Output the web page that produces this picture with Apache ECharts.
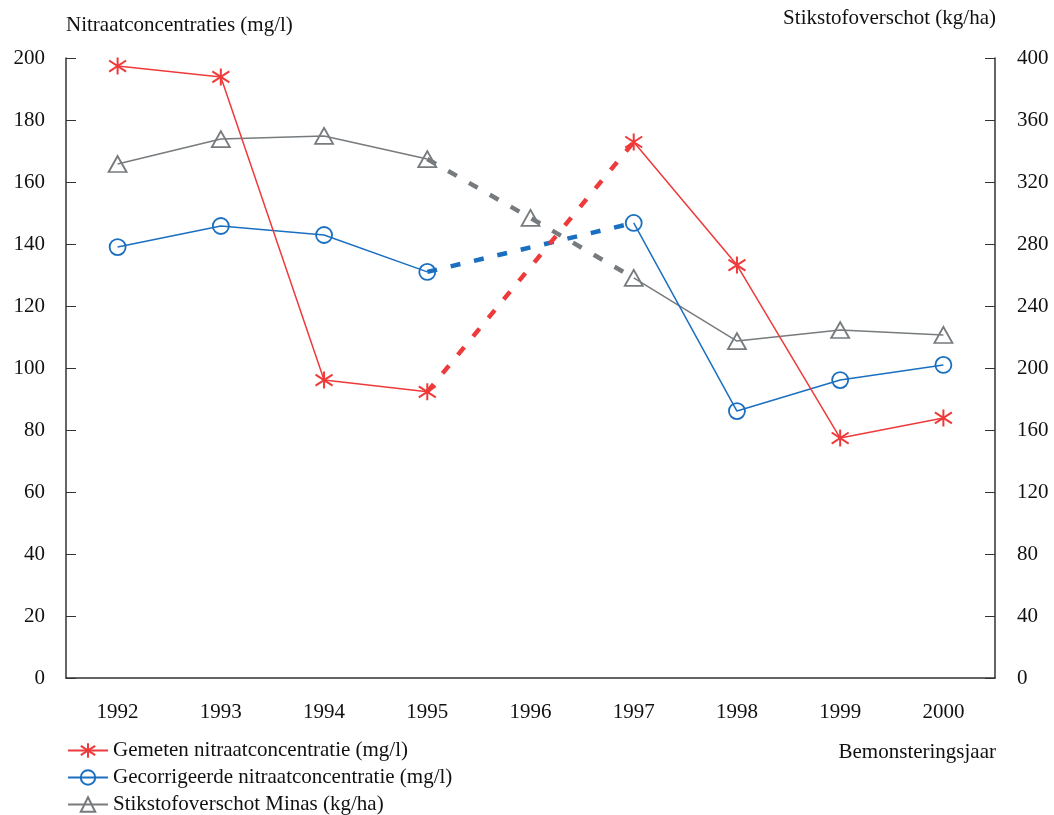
<!DOCTYPE html>
<html><head><meta charset="utf-8">
<script src="https://cdn.jsdelivr.net/npm/echarts@6/dist/echarts.min.js"></script>
<style>html,body{margin:0;padding:0;background:#fff}#c{width:1054px;height:815px}</style>
</head><body><div id="c"></div>
<script>
var years = ['1992','1993','1994','1995','1996','1997','1998','1999','2000'];
var gemeten = [197.4, 193.9, 96.1, 92.3, null, 172.9, 133.2, 77.4, 83.9];
var gecorrigeerd = [139.0, 145.8, 142.9, 131.0, null, 146.8, 86.1, 96.1, 101.0];
var stikstof = [331.6, 347.7, 349.7, 334.8, 296.8, 258.1, 217.4, 224.5, 221.3];
var leftTicks = [0, 200, 20];
var rightTicks = [0, 400, 40];

var RED = '#ee3a3a', BLUE = '#1a6fc0', GRAY = '#777b7e';
var FONT = 'Liberation Serif';
var FS = 21;
var TXT = '#111';
var star = 'path://M0,-1L0,1M-0.95,-0.65L0.95,0.65M-0.95,0.65L0.95,-0.65';

function solid(arr, withGap){ return arr.map(function(v,i){ return (withGap && i===4) ? null : v; }); }
function bridge(arr){ return arr.map(function(v,i){ return (i>=3 && i<=5) ? v : null; }); }

var chart = echarts.init(document.getElementById('c'));
chart.setOption({
  animation:false,
  textStyle:{fontFamily:FONT},
  grid:{left:66,right:59,top:58,bottom:137},
  legend:{
    orient:'vertical', left:67, top:740, height:100, width:600, padding:0, itemGap:6, itemWidth:40, itemHeight:18,
    textStyle:{fontFamily:FONT,fontSize:FS,color:TXT},
    data:['Gemeten nitraatconcentratie (mg/l)','Gecorrigeerde nitraatconcentratie (mg/l)','Stikstofoverschot Minas (kg/ha)']
  },
  graphic:[
    {type:'text',left:66,top:15,style:{text:'Nitraatconcentraties (mg/l)',font:FS+'px "Liberation Serif"',fill:TXT}},
    {type:'text',right:58,top:8,style:{text:'Stikstofoverschot (kg/ha)',font:FS+'px "Liberation Serif"',fill:TXT}},
    {type:'text',right:58,top:742,style:{text:'Bemonsteringsjaar',font:FS+'px "Liberation Serif"',fill:TXT}}
  ],
  xAxis:{
    type:'category', data:years, boundaryGap:true,
    axisLine:{lineStyle:{color:'#333',width:1.5}},
    axisTick:{inside:true,length:10,lineStyle:{color:'#333'}},
    axisLabel:{fontFamily:FONT,fontSize:FS,color:TXT,margin:24}
  },
  yAxis:[
    {type:'value',min:leftTicks[0],max:leftTicks[1],interval:leftTicks[2],
     splitLine:{show:false},
     axisLine:{show:true,lineStyle:{color:'#333',width:1.5}},
     axisTick:{show:true,inside:true,length:10,lineStyle:{color:'#333'}},
     axisLabel:{fontFamily:FONT,fontSize:FS,color:TXT,margin:21}},
    {type:'value',min:rightTicks[0],max:rightTicks[1],interval:rightTicks[2],position:'right',
     splitLine:{show:false},
     axisLine:{show:true,lineStyle:{color:'#333',width:1.5}},
     axisTick:{show:true,inside:true,length:10,lineStyle:{color:'#333'}},
     axisLabel:{fontFamily:FONT,fontSize:FS,color:TXT,margin:22}}
  ],
  series:[
    {name:'Stikstofoverschot Minas dashed',type:'line',yAxisIndex:1,data:bridge(stikstof),connectNulls:true,
     showSymbol:false,lineStyle:{color:GRAY,width:4.5,type:[10,14]},z:1},
    {name:'Gecorrigeerde dashed',type:'line',data:bridge(gecorrigeerd),connectNulls:true,
     showSymbol:false,lineStyle:{color:BLUE,width:4.5,type:[10,14]},z:1},
    {name:'Gemeten dashed',type:'line',data:bridge(gemeten),connectNulls:true,
     showSymbol:false,lineStyle:{color:RED,width:4.5,type:[10,14]},z:1},
    {name:'Stikstofoverschot Minas (kg/ha)',type:'line',yAxisIndex:1,data:solid(stikstof,true),connectNulls:false,
     symbol:'triangle',symbolSize:[18,16],
     lineStyle:{color:GRAY,width:1.5},itemStyle:{color:'rgba(0,0,0,0)',borderColor:GRAY,borderWidth:1.8},z:3},
    {name:'Stikstof 1996',type:'line',yAxisIndex:1,data:stikstof.map(function(v,i){return i===4?v:null;}),
     symbol:'triangle',symbolSize:[18,16],lineStyle:{width:0},
     itemStyle:{color:'rgba(0,0,0,0)',borderColor:GRAY,borderWidth:1.8},z:3},
    {name:'Gecorrigeerde nitraatconcentratie (mg/l)',type:'line',data:solid(gecorrigeerd,true),connectNulls:false,
     symbol:'circle',symbolSize:16,
     lineStyle:{color:BLUE,width:1.5},itemStyle:{color:'rgba(0,0,0,0)',borderColor:BLUE,borderWidth:1.8},z:3},
    {name:'Gemeten nitraatconcentratie (mg/l)',type:'line',data:solid(gemeten,true),connectNulls:false,
     symbol:star,symbolSize:17,
     lineStyle:{color:RED,width:1.5},itemStyle:{color:RED,borderColor:RED,borderWidth:2},z:3}
  ]
});
</script></body></html>
